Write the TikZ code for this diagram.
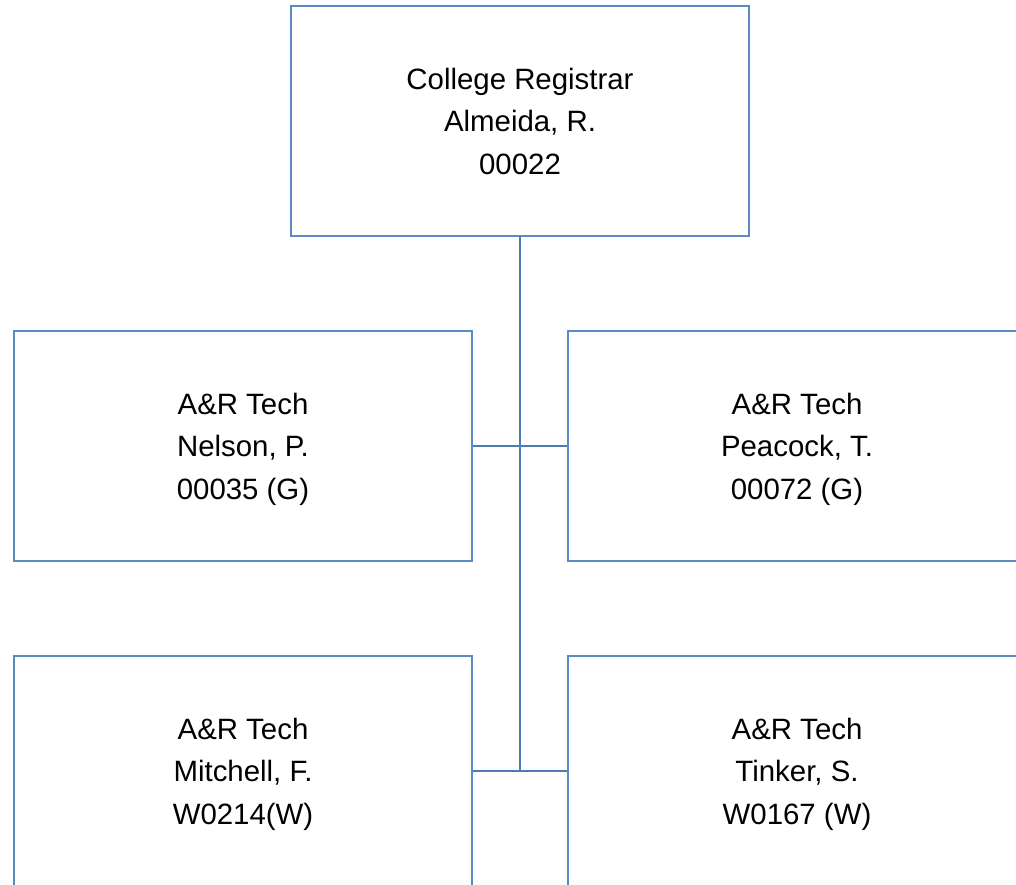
\documentclass[tikz,border=0pt]{standalone}
\usepackage{fontspec}
\setmainfont{Liberation Sans}
\definecolor{boxblue}{HTML}{5A8AC4}
\definecolor{lineblue}{HTML}{4A7DB5}
\begin{document}
\begin{tikzpicture}[x=1pt,y=-1pt]
		\tikzstyle{staff}=[rectangle,draw=boxblue,line width=2.6pt,minimum width=458pt,minimum height=230pt,inner sep=0pt,align=center,font=\fontsize{29.4}{42.5}\selectfont]
		\tikzstyle{link}=[draw=lineblue,line width=2.6pt]

		\useasboundingbox (0,0) rectangle (1016,884);
		\clip (0,0) rectangle (1016,884);

		\node[staff] (registrar) at (520,121) {College Registrar\\Almeida, R.\\00022};
		\node[staff] (nelson) at (243,446) {A\&R Tech\\Nelson, P.\\\smash{00035 (G)}};
		\node[staff] (peacock) at (797,446) {A\&R Tech\\Peacock, T.\\\smash{00072 (G)}};
		\node[staff] (mitchell) at (243,771) {A\&R Tech\\Mitchell, F.\\\smash{W0214(W)}};
		\node[staff] (tinker) at (797,771) {A\&R Tech\\Tinker, S.\\\smash{W0167 (W)}};

		\coordinate (junction) at (registrar.south |- mitchell.east);

		\draw[link] (registrar.south) -- (junction);
		\draw[link] (nelson.east) -- (peacock.west);
		\draw[link] (mitchell.east) -- (tinker.west);
	\end{tikzpicture}
\end{document}
